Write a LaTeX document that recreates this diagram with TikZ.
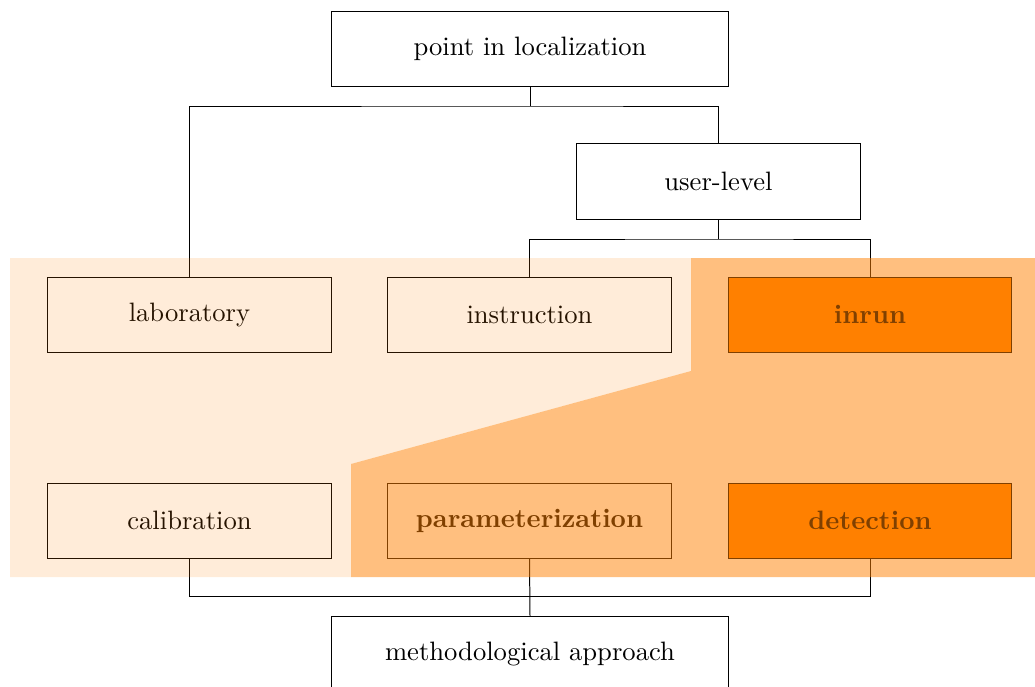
\documentclass[tikz,border=0pt]{standalone}
\begin{document}
\begin{tikzpicture}[x=0.014134cm,y=-0.014134cm,
  box/.style={draw=black,line width=0.4pt,minimum width=283\pgfkeysvalueof{/pgf/x}, inner sep=0pt,
    minimum width=4cm,minimum height=1.06cm,font=\fontsize{10.7pt}{13pt}\selectfont},
  widebox/.style={box,minimum width=5.6cm},
  hot/.style={box,fill=orange,font=\fontsize{10.7pt}{13pt}\selectfont\bfseries},
  warm/.style={box,font=\fontsize{10.7pt}{13pt}\selectfont\bfseries},
  link/.style={draw=black,line width=0.4pt}]
\useasboundingbox[clip] (0,0) rectangle (1035,686);
\node[widebox] (loc) at (530,49) {point in localization};
\node[box] (user) at (718.5,181.5) {user-level};
\node[box] (lab) at (189.5,314.5) {laboratory};
\node[box] (ins) at (529.5,314.5) {instruction};
\node[hot] (inrun) at (870,314.5) {inrun};
\node[box] (cal) at (189.5,520.5) {calibration};
\node[warm] (par) at (529.5,520.5) {parameterization};
\node[hot] (det) at (870,520.5) {detection};
\node[widebox] (meth) at (530,654) {methodological approach};
\coordinate (j1) at (530,106);
\coordinate (j2) at (718.5,239);
\coordinate (j3) at (530,596);
\draw[link] (loc.south) -- (j1);
\draw[link] (lab.north) |- (j1) -| (user.north);
\draw[link] (user.south) -- (j2);
\draw[link] (ins.north) |- (j2) -| (inrun.north);
\draw[link] (cal.south) |- (j3) -| (det.south);
\draw[link] (par.south) -- (meth.north);
\fill[orange,opacity=0.15] (10,258) -- (691,258) -- (691,371) -- (351,464) -- (351,577) -- (10,577) -- cycle;
\fill[orange,opacity=0.5] (691,258) -- (1040,258) -- (1040,577) -- (351,577) -- (351,464) -- (691,371) -- cycle;
\end{tikzpicture}
\end{document}
